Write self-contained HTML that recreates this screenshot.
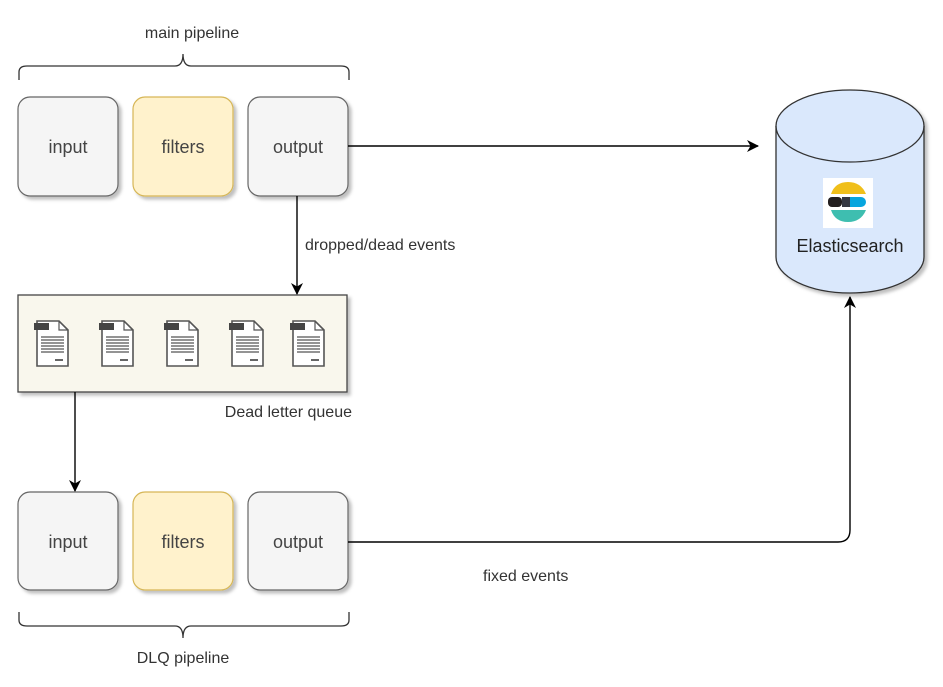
<!DOCTYPE html>
<html><head><style>
html,body{margin:0;padding:0;background:#fff;}
svg{display:block;font-family:"Liberation Sans",sans-serif;}
</style></head><body>
<svg width="943" height="687" viewBox="0 0 943 687" xmlns="http://www.w3.org/2000/svg">
<defs>
<filter id="sh" x="-10%" y="-10%" width="130%" height="130%"><feDropShadow dx="3" dy="3" stdDeviation="1.5" flood-color="#000" flood-opacity="0.25"/></filter>
<marker id="ar" markerWidth="12" markerHeight="12" refX="11" refY="6" orient="auto" markerUnits="userSpaceOnUse"><path d="M0,0 L12,6 L0,12 L3.5,6 z" fill="#000"/></marker>
<g id="doc">
<path d="M0,0 h22 l9,9 v36 h-31 z" fill="#fff" stroke="#555" stroke-width="1.6"/>
<path d="M22,0 v9 h9" fill="none" stroke="#555" stroke-width="1.2"/>
<rect x="-3" y="2" width="15" height="7" fill="#444"/>
<g stroke="#555" stroke-width="1.2"><line x1="4" y1="16" x2="27" y2="16"/><line x1="4" y1="19" x2="27" y2="19"/><line x1="4" y1="22" x2="27" y2="22"/><line x1="4" y1="25" x2="27" y2="25"/><line x1="4" y1="28" x2="27" y2="28"/><line x1="4" y1="31" x2="27" y2="31"/><line x1="18" y1="39" x2="26" y2="39" stroke-width="1.8"/></g>
</g>
</defs>

<text x="192" y="38" font-size="16" text-anchor="middle" fill="#333">main pipeline</text>
<path d="M19,80 v-8 q0,-6 8,-6 h148 q8,0 8,-12 q0,12 8,12 h150 q8,0 8,6 v8" fill="none" stroke="#333" stroke-width="1.3"/>

<g filter="url(#sh)">
<rect x="18" y="97" width="100" height="99" rx="12" fill="#f5f5f5" stroke="#666" stroke-width="1.2"/>
<rect x="133" y="97" width="100" height="99" rx="12" fill="#fff2cc" stroke="#d6b656" stroke-width="1.2"/>
<rect x="248" y="97" width="100" height="99" rx="12" fill="#f5f5f5" stroke="#666" stroke-width="1.2"/>
<rect x="18" y="492" width="100" height="98" rx="12" fill="#f5f5f5" stroke="#666" stroke-width="1.2"/>
<rect x="133" y="492" width="100" height="98" rx="12" fill="#fff2cc" stroke="#d6b656" stroke-width="1.2"/>
<rect x="248" y="492" width="100" height="98" rx="12" fill="#f5f5f5" stroke="#666" stroke-width="1.2"/>
<rect x="18" y="295" width="329" height="97" fill="#f9f7ed" stroke="#444" stroke-width="1.3"/>
</g>
<g font-size="18" fill="#444" text-anchor="middle">
<text x="68" y="153">input</text><text x="183" y="153">filters</text><text x="298" y="153">output</text>
<text x="68" y="548">input</text><text x="183" y="548">filters</text><text x="298" y="548">output</text>
</g>

<use href="#doc" x="37" y="321"/>
<use href="#doc" x="102" y="321"/>
<use href="#doc" x="167" y="321"/>
<use href="#doc" x="232" y="321"/>
<use href="#doc" x="293" y="321"/>
<text x="352" y="417" font-size="16" text-anchor="end" fill="#333">Dead letter queue</text>

<line x1="348" y1="146" x2="758" y2="146" stroke="#000" stroke-width="1.4" marker-end="url(#ar)"/>
<line x1="297" y1="196" x2="297" y2="294" stroke="#000" stroke-width="1.4" marker-end="url(#ar)"/>
<text x="305" y="250" font-size="16" fill="#333">dropped/dead events</text>
<line x1="75" y1="392" x2="75" y2="491" stroke="#000" stroke-width="1.4" marker-end="url(#ar)"/>
<path d="M348,542 H838 Q850,542 850,530 V297" fill="none" stroke="#000" stroke-width="1.4" marker-end="url(#ar)"/>
<text x="483" y="581" font-size="16" fill="#333">fixed events</text>

<path d="M19,612 v8 q0,6 8,6 h148 q8,0 8,12 q0,-12 8,-12 h150 q8,0 8,-6 v-8" fill="none" stroke="#333" stroke-width="1.3"/>
<text x="183" y="663" font-size="16" text-anchor="middle" fill="#333">DLQ pipeline</text>

<g filter="url(#sh)">
<path d="M776,126 V257 A74,36 0 0 0 924,257 V126 A74,36 0 0 0 776,126 Z" fill="#dae8fc" stroke="#333" stroke-width="1.3"/>
</g>
<path d="M776,126 A74,36 0 0 0 924,126" fill="none" stroke="#333" stroke-width="1.3"/>
<rect x="823" y="178" width="50" height="50" fill="#fff"/>
<path d="M831,194 Q835,182 848,182 Q861,182 866,194 Z" fill="#f0bf1a"/>
<rect x="828" y="197" width="14" height="10" rx="4" fill="#231f20"/>
<rect x="842" y="197" width="24" height="10" rx="5" fill="#07a5de"/>
<rect x="842" y="197" width="8" height="10" fill="#343741"/>
<path d="M831,210 Q835,222 848,222 Q861,222 866,210 Z" fill="#3ebeb0"/>
<text x="850" y="252" font-size="18" text-anchor="middle" fill="#222">Elasticsearch</text>
</svg>
</body></html>
